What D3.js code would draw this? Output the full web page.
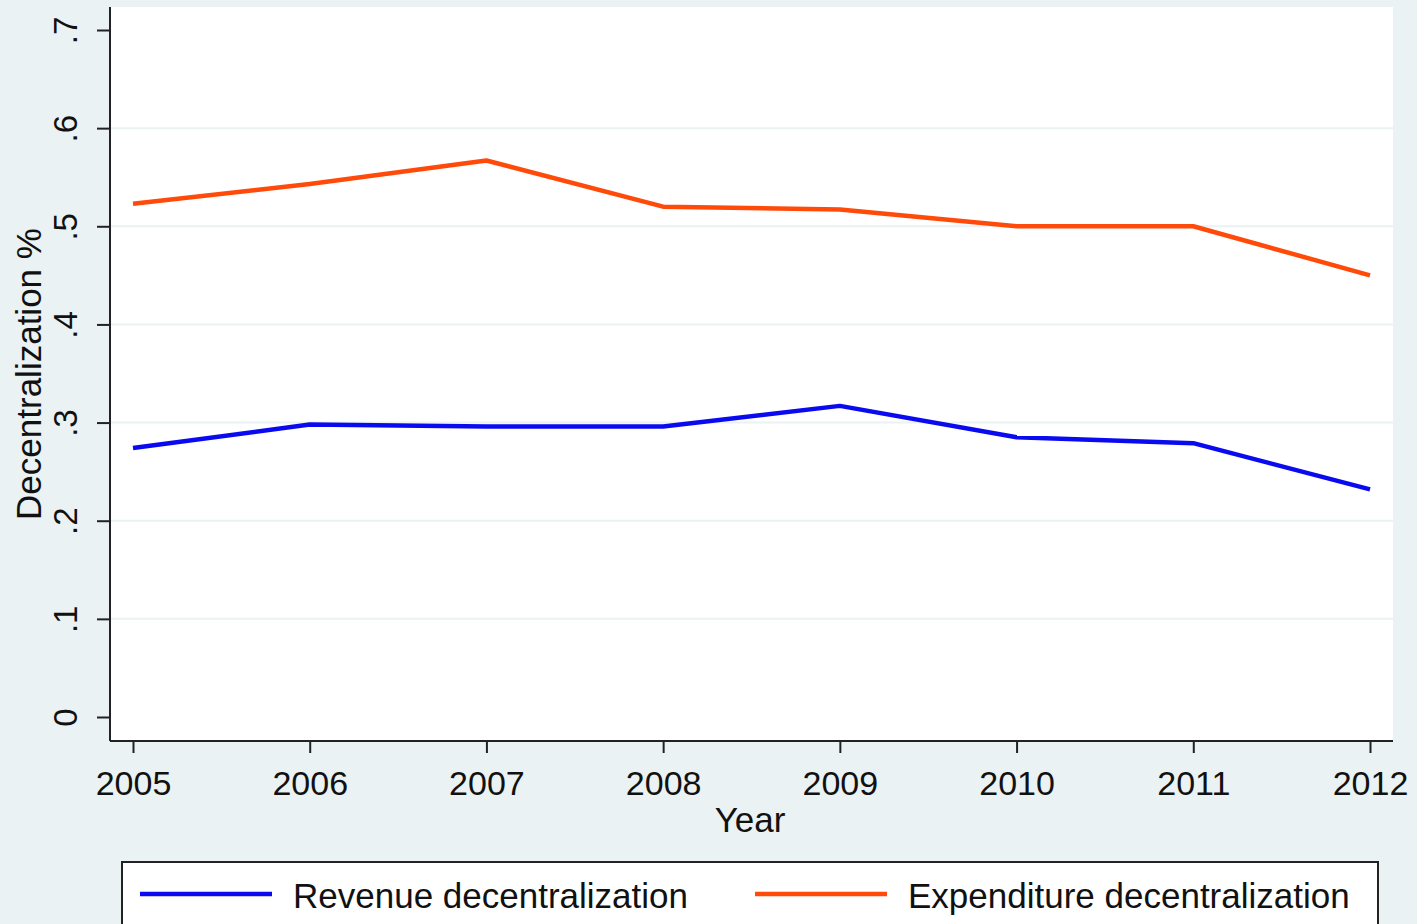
<html>
<head>
<script src="https://d3js.org/d3.v7.min.js"></script>
<style>
  body { margin: 0; background: #eaf2f3; }
  text { font-family: "Liberation Sans", Arial, sans-serif; fill: #111; }
</style>
</head>
<body>
<svg id="MAINSVG" width="1417" height="924"></svg>
<script>
var years = [2005, 2006, 2007, 2008, 2009, 2010, 2011, 2012];
var revenue = [0.274, 0.298, 0.296, 0.296, 0.317, 0.285, 0.279, 0.232];
var expenditure = [0.523, 0.543, 0.567, 0.520, 0.517, 0.500, 0.500, 0.450];
var yTicks = [0, 0.1, 0.2, 0.3, 0.4, 0.5, 0.6, 0.7];
var seriesNames = ["Revenue decentralization", "Expenditure decentralization"];
var seriesColors = ["#0a0af0", "#ff4a0a"];

var SVG = d3.select("#MAINSVG");

var plot_left = 110, plot_right = 1393, plot_top = 7, plot_bottom = 741;

var x = d3.scaleLinear().domain([2005, 2012]).range([133, 1370]);
var y = d3.scaleLinear().domain([0, 0.7]).range([717, 30]);

SVG.append("rect")
  .attr("width", 1417).attr("height", 924)
  .attr("fill", "#eaf2f3");

SVG.append("rect")
  .attr("x", plot_left).attr("y", plot_top)
  .attr("width", plot_right - plot_left).attr("height", plot_bottom - plot_top)
  .attr("fill", "#ffffff");

// gridlines
SVG.selectAll(".grid")
  .data(yTicks.filter(function(d) { return d > 0 && d < 0.7; }))
  .enter().append("line")
  .attr("class", "grid")
  .attr("x1", plot_left).attr("x2", plot_right)
  .attr("y1", function(d) { return y(d); })
  .attr("y2", function(d) { return y(d); })
  .attr("stroke", "#eaf2f3")
  .attr("stroke-width", 2);

// y axis
var yAxis = d3.axisLeft(y)
  .tickValues(yTicks)
  .tickSize(13)
  .tickPadding(0)
  .tickFormat(function(d) { return d === 0 ? "0" : d3.format(".1f")(d).replace(/^0/, ""); });

var gy = SVG.append("g")
  .attr("transform", "translate(" + plot_left + ",0)")
  .call(yAxis);
gy.select(".domain").attr("d", "M0," + plot_bottom + "V" + plot_top)
  .attr("stroke", "#222").attr("stroke-width", 2);
gy.selectAll(".tick line").attr("stroke", "#222").attr("stroke-width", 2);
gy.selectAll(".tick text")
  .attr("x", 0).attr("y", 0).attr("dy", 0)
  .attr("transform", "translate(-33,0) rotate(-90)")
  .attr("text-anchor", "middle")
  .style("font-size", "33px");

// x axis
var xAxis = d3.axisBottom(x)
  .tickValues(years)
  .tickSize(12)
  .tickPadding(8)
  .tickFormat(d3.format("d"));

var gx = SVG.append("g")
  .attr("transform", "translate(0," + plot_bottom + ")")
  .call(xAxis);
gx.select(".domain").attr("d", "M" + plot_left + ",0H" + plot_right)
  .attr("stroke", "#222").attr("stroke-width", 2);
gx.selectAll(".tick line").attr("stroke", "#222").attr("stroke-width", 2);
gx.selectAll(".tick text")
  .attr("y", 0).attr("dy", 0)
  .attr("transform", "translate(0,54)")
  .style("font-size", "34px");

// axis titles
SVG.append("text")
  .attr("x", 750).attr("y", 832)
  .attr("text-anchor", "middle")
  .style("font-size", "35px")
  .text("Year");

SVG.append("text")
  .attr("transform", "translate(41,374) rotate(-90)")
  .attr("text-anchor", "middle")
  .style("font-size", "35px")
  .text("Decentralization %");

// lines
var line = d3.line()
  .x(function(d, i) { return x(years[i]); })
  .y(function(d) { return y(d); });

[revenue, expenditure].forEach(function(s, k) {
  SVG.append("path")
    .datum(s)
    .attr("d", line)
    .attr("fill", "none")
    .attr("stroke", seriesColors[k])
    .attr("stroke-width", 4.5)
    .attr("stroke-linejoin", "round");
});

// legend
SVG.append("rect")
  .attr("x", 122).attr("y", 862)
  .attr("width", 1256).attr("height", 80)
  .attr("fill", "#ffffff")
  .attr("stroke", "#222")
  .attr("stroke-width", 2);

var legendX = [140, 755];
seriesNames.forEach(function(name, k) {
  SVG.append("line")
    .attr("x1", legendX[k]).attr("x2", legendX[k] + 132)
    .attr("y1", 894).attr("y2", 894)
    .attr("stroke", seriesColors[k])
    .attr("stroke-width", 4.5);
  SVG.append("text")
    .attr("x", legendX[k] + 153).attr("y", 908)
    .style("font-size", "35px")
    .text(name);
});
</script>
</body>
</html>
